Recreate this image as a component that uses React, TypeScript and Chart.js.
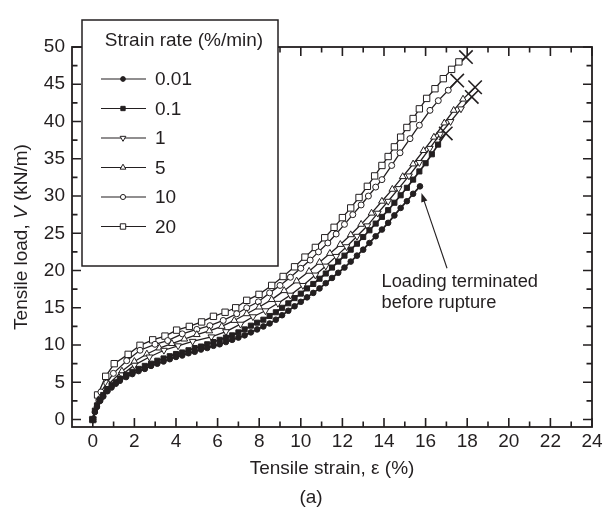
import React, { useEffect, useRef } from 'react';
import { Chart, registerables } from 'chart.js';
import { drawPoint } from 'chart.js/helpers';

Chart.register(...registerables);

// ---------------- data ----------------
const SERIES_LABELS = ['0.01', '0.1', '1', '5', '10', '20'];

// strain (%), tensile load (kN/m)
const RATE_001: [number, number][] = [
  [0, 0], [0.1, 1.0], [0.2, 1.7], [0.35, 2.5], [0.5, 3.1], [0.7, 3.8], [0.9, 4.3], [1.1, 4.8],
  [1.3, 5.2], [1.6, 5.7], [1.9, 6.1], [2.2, 6.5], [2.5, 6.8], [2.8, 7.2], [3.1, 7.5], [3.4, 7.8],
  [3.7, 8.1], [4.0, 8.4], [4.3, 8.6], [4.6, 8.9], [4.9, 9.1], [5.2, 9.4], [5.5, 9.6], [5.8, 9.9],
  [6.1, 10.1], [6.4, 10.4], [6.7, 10.7], [7.0, 11.0], [7.3, 11.3], [7.6, 11.7], [7.9, 12.1],
  [8.2, 12.5], [8.5, 12.9], [8.8, 13.4], [9.1, 14.0], [9.4, 14.6], [9.7, 15.2], [10.0, 15.8],
  [10.3, 16.4], [10.6, 17.0], [10.9, 17.6], [11.2, 18.3], [11.5, 19.0], [11.8, 19.7], [12.1, 20.4],
  [12.4, 21.2], [12.7, 22.0], [13.0, 22.8], [13.3, 23.7], [13.6, 24.6], [13.9, 25.5], [14.2, 26.4],
  [14.5, 27.4], [14.8, 28.4], [15.1, 29.3], [15.4, 30.3], [15.73, 31.3],
];

const RATE_01: [number, number][] = [
  [0, 0], [0.1, 1.2], [0.2, 1.9], [0.35, 2.7], [0.5, 3.3], [0.7, 4.0], [0.9, 4.6], [1.1, 5.0],
  [1.3, 5.5], [1.6, 6.0], [1.9, 6.4], [2.2, 6.8], [2.5, 7.2], [2.8, 7.5], [3.1, 7.9], [3.4, 8.2],
  [3.7, 8.5], [4.0, 8.8], [4.3, 9.0], [4.6, 9.3], [4.9, 9.6], [5.2, 9.8], [5.5, 10.1], [5.8, 10.4],
  [6.1, 10.7], [6.4, 11.0], [6.7, 11.3], [7.0, 11.7], [7.3, 12.1], [7.6, 12.6], [7.9, 13.0],
  [8.2, 13.4], [8.5, 13.9], [8.8, 14.4], [9.1, 15.0], [9.4, 15.6], [9.7, 16.3], [10.0, 16.9],
  [10.3, 17.6], [10.6, 18.2], [10.9, 18.9], [11.2, 19.6], [11.5, 20.4], [11.8, 21.2], [12.1, 22.0],
  [12.4, 22.8], [12.7, 23.6], [13.0, 24.5], [13.3, 25.4], [13.6, 26.3], [13.9, 27.2], [14.2, 28.1],
  [14.5, 29.1], [14.8, 30.1], [15.1, 31.1], [15.4, 32.2], [15.7, 33.3], [16.0, 34.4], [16.3, 35.6],
  [16.6, 36.9], [16.97, 38.4],
];

const RATE_1: [number, number][] = [
  [0, 0], [0.3, 2.4], [0.7, 4.1], [1.4, 6.0], [2.0, 7.3], [2.72, 8.4], [3.42, 9.3], [4.1, 9.9],
  [4.8, 10.5], [5.7, 11.1], [6.4, 11.8], [7.1, 12.8], [7.7, 13.8], [8.3, 14.6], [8.9, 15.6],
  [9.5, 16.7], [10.1, 18.0], [10.7, 19.4], [11.2, 20.6], [11.7, 21.9], [12.2, 23.2], [12.7, 24.6],
  [13.2, 26.0], [13.7, 27.7], [14.2, 29.3], [14.7, 31.0], [15.2, 32.7], [15.7, 34.5], [16.2, 36.4],
  [16.7, 38.3], [17.2, 40.0], [17.7, 41.7], [18.22, 43.3],
];

const RATE_5: [number, number][] = [
  [0, 0], [0.35, 2.9], [0.75, 4.7], [1.4, 6.5], [2.0, 7.8], [2.6, 8.8], [3.2, 9.6], [3.8, 10.2],
  [4.4, 10.8], [5.0, 11.4], [5.6, 11.9], [6.2, 12.5], [6.8, 13.3], [7.4, 14.2], [8.0, 15.1],
  [8.6, 16.1], [9.2, 17.3], [9.8, 18.6], [10.4, 19.9], [10.9, 21.1], [11.4, 22.3], [11.9, 23.5],
  [12.4, 24.8], [12.9, 26.2], [13.4, 27.7], [13.9, 29.3], [14.4, 30.9], [14.9, 32.6], [15.4, 34.3],
  [15.9, 36.1], [16.4, 37.9], [16.9, 39.8], [17.35, 41.5], [17.8, 43.0], [18.38, 44.6],
];

const RATE_10: [number, number][] = [
  [0, 0], [0.39, 3.7], [0.67, 4.9], [0.99, 6.2], [1.63, 7.9], [2.27, 9.3], [2.99, 10.1], [3.6, 10.6],
  [4.3, 11.5], [5.0, 12.1], [5.63, 12.6], [6.27, 13.3], [6.92, 14.2], [7.4, 15.0], [7.96, 15.8],
  [8.5, 17.0], [9.0, 18.0], [9.5, 19.1], [10.0, 20.3], [10.45, 21.4], [10.85, 22.5], [11.3, 23.7],
  [11.7, 24.9], [12.1, 26.2], [12.5, 27.5], [12.9, 28.8], [13.25, 30.0], [13.6, 31.2], [13.9, 32.2],
  [14.37, 34.1], [14.77, 35.8], [15.25, 37.7], [15.7, 39.5], [16.21, 41.5], [16.61, 42.8],
  [17.09, 44.2], [17.52, 45.5],
];

const RATE_20: [number, number][] = [
  [0, 0], [0.23, 3.3], [0.62, 5.8], [1.03, 7.5], [1.7, 8.75], [2.27, 9.96], [2.88, 10.7], [3.47, 11.2],
  [4.03, 12.0], [4.64, 12.5], [5.23, 13.1], [5.8, 13.85], [6.36, 14.4], [6.87, 15.0], [7.4, 16.0],
  [7.99, 16.8], [8.6, 18.0], [9.15, 19.2], [9.7, 20.5], [10.2, 21.8], [10.7, 23.1], [11.15, 24.4],
  [11.6, 25.8], [12.0, 27.1], [12.4, 28.4], [12.8, 29.8], [13.2, 31.3], [13.55, 32.7], [13.9, 34.1],
  [14.2, 35.3], [14.5, 36.6], [14.8, 37.9], [15.1, 39.2], [15.4, 40.4], [15.7, 41.7], [16.05, 43.1],
  [16.45, 44.4], [16.85, 45.75], [17.25, 47.0], [17.6, 48.0], [17.94, 48.65],
];

// rupture points (X marks)
const RUPTURE_STRAIN = [17.94, 17.52, 18.38, 18.22, 16.97];
const RUPTURE_LOAD = [48.65, 45.5, 44.6, 43.3, 38.4];

const X_MINOR_TICKS = [1, 3, 5, 7, 9, 11, 13, 15, 17, 19, 21, 23];
const Y_MINOR_TICKS = [2.5, 7.5, 12.5, 17.5, 22.5, 27.5, 32.5, 37.5, 42.5, 47.5];

const LEGEND_TITLE = 'Strain rate (%/min)';
const X_TITLE = 'Tensile strain, ε (%)';
const Y_TITLE_PARTS = ['Tensile load, ', 'V', ' (kN/m)'];
const NOTE_LINES = ['Loading terminated', 'before rupture'];
const NOTE_TEXT_POS = { x: 13.88, y1: 18.5, y2: 15.6 };
const NOTE_ARROW = { fromX: 17.03, fromY: 20.3, toX: 15.8, toY: 30.4 };
const PANEL_LABEL = '(a)';

// ---------------- style ----------------
const INK = '#231f20';
const FONT = '"Liberation Sans", Arial, Helvetica, sans-serif';
const FS = 19;
const NOTE_FS = 18.3;

const SERIES_DATA = [RATE_001, RATE_01, RATE_1, RATE_5, RATE_10, RATE_20];
const SERIES_STYLE = [
  { pointStyle: 'circle', radius: 2.8, fill: INK, rotation: 0, lw: 1.8 },
  { pointStyle: 'rect', radius: 3.6, fill: INK, rotation: 0, lw: 1.7 },
  { pointStyle: 'triangle', radius: 3.9, fill: '#ffffff', rotation: 180, lw: 1.3 },
  { pointStyle: 'triangle', radius: 3.9, fill: '#ffffff', rotation: 0, lw: 1.3 },
  { pointStyle: 'circle', radius: 3.0, fill: '#ffffff', rotation: 0, lw: 1.3 },
  { pointStyle: 'rect', radius: 4.5, fill: '#ffffff', rotation: 0, lw: 1.3 },
];

const decorPlugin = {
  id: 'decor',
  afterDatasetsDraw(chart: any) {
    const { ctx, chartArea: ca, scales } = chart;
    const xs = scales.x;
    const ys = scales.y;
    ctx.save();
    ctx.strokeStyle = INK;
    // ticks (inward, all four sides)
    ctx.lineWidth = 1.6;
    const major = 9;
    const minor = 5.5;
    const xt = (v: number, len: number) => {
      const px = xs.getPixelForValue(v);
      ctx.beginPath();
      ctx.moveTo(px, ca.bottom);
      ctx.lineTo(px, ca.bottom - len);
      ctx.moveTo(px, ca.top);
      ctx.lineTo(px, ca.top + len);
      ctx.stroke();
    };
    const yt = (v: number, len: number) => {
      const py = ys.getPixelForValue(v);
      ctx.beginPath();
      ctx.moveTo(ca.left, py);
      ctx.lineTo(ca.left + len, py);
      ctx.moveTo(ca.right, py);
      ctx.lineTo(ca.right - len, py);
      ctx.stroke();
    };
    xs.ticks.forEach((t: any) => xt(t.value, major));
    X_MINOR_TICKS.forEach((v) => xt(v, minor));
    ys.ticks.forEach((t: any) => yt(t.value, major));
    Y_MINOR_TICKS.forEach((v) => yt(v, minor));
    // frame
    ctx.lineWidth = 1.8;
    ctx.strokeRect(ca.left, ca.top, ca.right - ca.left, ca.bottom - ca.top);

    // annotation arrow
    const ax1 = xs.getPixelForValue(NOTE_ARROW.fromX);
    const ay1 = ys.getPixelForValue(NOTE_ARROW.fromY);
    const ax2 = xs.getPixelForValue(NOTE_ARROW.toX);
    const ay2 = ys.getPixelForValue(NOTE_ARROW.toY);
    const ang = Math.atan2(ay2 - ay1, ax2 - ax1);
    const hl = 9;
    const hw = 3.2;
    ctx.lineWidth = 1.1;
    ctx.beginPath();
    ctx.moveTo(ax1, ay1);
    ctx.lineTo(ax2 - Math.cos(ang) * hl * 0.8, ay2 - Math.sin(ang) * hl * 0.8);
    ctx.stroke();
    ctx.fillStyle = INK;
    ctx.beginPath();
    ctx.moveTo(ax2, ay2);
    ctx.lineTo(ax2 - Math.cos(ang) * hl + Math.sin(ang) * hw, ay2 - Math.sin(ang) * hl - Math.cos(ang) * hw);
    ctx.lineTo(ax2 - Math.cos(ang) * hl - Math.sin(ang) * hw, ay2 - Math.sin(ang) * hl + Math.cos(ang) * hw);
    ctx.closePath();
    ctx.fill();

    // annotation text
    ctx.font = `${NOTE_FS}px ${FONT}`;
    ctx.textAlign = 'left';
    ctx.textBaseline = 'middle';
    const tx = xs.getPixelForValue(NOTE_TEXT_POS.x);
    ctx.fillText(NOTE_LINES[0], tx, ys.getPixelForValue(NOTE_TEXT_POS.y1));
    ctx.fillText(NOTE_LINES[1], tx, ys.getPixelForValue(NOTE_TEXT_POS.y2));
    ctx.restore();
  },
  afterDraw(chart: any) {
    const { ctx, chartArea: ca } = chart;
    ctx.save();
    // y axis title with italic V
    ctx.fillStyle = INK;
    ctx.textBaseline = 'middle';
    ctx.textAlign = 'left';
    const fonts = [`${FS}px ${FONT}`, `italic ${FS}px ${FONT}`, `${FS}px ${FONT}`];
    let total = 0;
    const widths = Y_TITLE_PARTS.map((p, i) => {
      ctx.font = fonts[i];
      const w = ctx.measureText(p).width;
      total += w;
      return w;
    });
    ctx.translate(22, (ca.top + ca.bottom) / 2);
    ctx.rotate(-Math.PI / 2);
    let cx = -total / 2;
    Y_TITLE_PARTS.forEach((p, i) => {
      ctx.font = fonts[i];
      ctx.fillText(p, cx, 0);
      cx += widths[i];
    });
    ctx.restore();

    // panel label
    ctx.save();
    ctx.fillStyle = INK;
    ctx.font = `${FS}px ${FONT}`;
    ctx.textAlign = 'center';
    ctx.textBaseline = 'middle';
    ctx.fillText(PANEL_LABEL, 311, 498);
    ctx.restore();

    // legend box
    ctx.save();
    const bx = ca.left + 10;
    const by = ca.top - 27;
    const bw = 196;
    const bh = 246;
    ctx.fillStyle = '#ffffff';
    ctx.fillRect(bx, by, bw, bh);
    ctx.strokeStyle = INK;
    ctx.lineWidth = 1.5;
    ctx.strokeRect(bx, by, bw, bh);
    ctx.fillStyle = INK;
    ctx.font = `${FS}px ${FONT}`;
    ctx.textBaseline = 'middle';
    ctx.textAlign = 'center';
    ctx.fillText(LEGEND_TITLE, bx + 102, by + 21);
    ctx.textAlign = 'left';
    chart.data.datasets.forEach((ds: any, i: number) => {
      if (i >= SERIES_LABELS.length) return;
      const st = SERIES_STYLE[i];
      const y = by + 59 + i * 29.5;
      ctx.strokeStyle = INK;
      ctx.lineWidth = 1.2;
      ctx.beginPath();
      ctx.moveTo(bx + 19, y);
      ctx.lineTo(bx + 64, y);
      ctx.stroke();
      ctx.fillStyle = st.fill;
      ctx.strokeStyle = INK;
      ctx.lineWidth = 1;
      drawPoint(ctx, { pointStyle: st.pointStyle, rotation: st.rotation, radius: st.radius * 0.85, borderWidth: 1 } as any, bx + 41, y);
      ctx.fillStyle = INK;
      ctx.fillText(ds.label, bx + 73, y + 1);
    });
    ctx.restore();
  },
};

export default function App() {
  const ref = useRef<HTMLCanvasElement | null>(null);
  useEffect(() => {
    if (!ref.current) return;
    Chart.defaults.font.family = FONT;
    Chart.defaults.font.size = FS;
    Chart.defaults.color = INK;

    const datasets: any[] = SERIES_DATA.map((d, i) => {
      const st = SERIES_STYLE[i];
      const last = d.length - 1;
      return {
        label: SERIES_LABELS[i],
        data: d.map(([x, y]) => ({ x, y })),
        showLine: true,
        borderColor: INK,
        borderWidth: st.lw,
        pointStyle: st.pointStyle,
        pointRotation: st.rotation,
        pointRadius: (c: any) => (c.dataIndex === last && i > 0 ? 0 : st.radius),
        pointBackgroundColor: st.fill,
        pointBorderColor: INK,
        pointBorderWidth: 1,
        tension: 0,
      };
    });
    datasets.push({
      label: 'rupture',
      data: RUPTURE_STRAIN.map((x, i) => ({ x, y: RUPTURE_LOAD[i] })),
      showLine: false,
      pointStyle: 'crossRot',
      pointRadius: 9.5,
      pointBorderColor: INK,
      pointBorderWidth: 1.6,
    });

    const chart = new Chart(ref.current, {
      type: 'scatter',
      data: { datasets },
      options: {
        responsive: false,
        animation: false,
        devicePixelRatio: 1,
        layout: { padding: { top: 47, right: 15, left: 0, bottom: 0 } },
        plugins: { legend: { display: false }, tooltip: { enabled: false } },
        scales: {
          x: {
            type: 'linear',
            min: -1,
            max: 24,
            grid: { display: false, drawTicks: false, tickLength: 0 },
            border: { display: false },
            ticks: { stepSize: 2, includeBounds: false, padding: 3, color: INK, font: { size: FS }, maxRotation: 0, autoSkip: false },
            title: { display: true, text: X_TITLE, color: INK, font: { size: FS }, padding: { top: 0, bottom: 46 } },
            afterFit: (s: any) => {
              s.height = 99;
            },
          },
          y: {
            type: 'linear',
            min: -1,
            max: 50,
            grid: { display: false, drawTicks: false, tickLength: 0 },
            border: { display: false },
            ticks: { stepSize: 5, includeBounds: false, padding: 7, color: INK, font: { size: FS } },
            afterFit: (s: any) => {
              s.width = 72;
            },
          },
        },
      } as any,
      plugins: [decorPlugin],
    });
    return () => chart.destroy();
  }, []);

  return (
    <div style={{ position: 'absolute', left: 0, top: 0, width: 607, height: 526, background: '#fff' }}>
      <canvas ref={ref} width={607} height={526} style={{ display: 'block', width: 607, height: 526 }} />
    </div>
  );
}
